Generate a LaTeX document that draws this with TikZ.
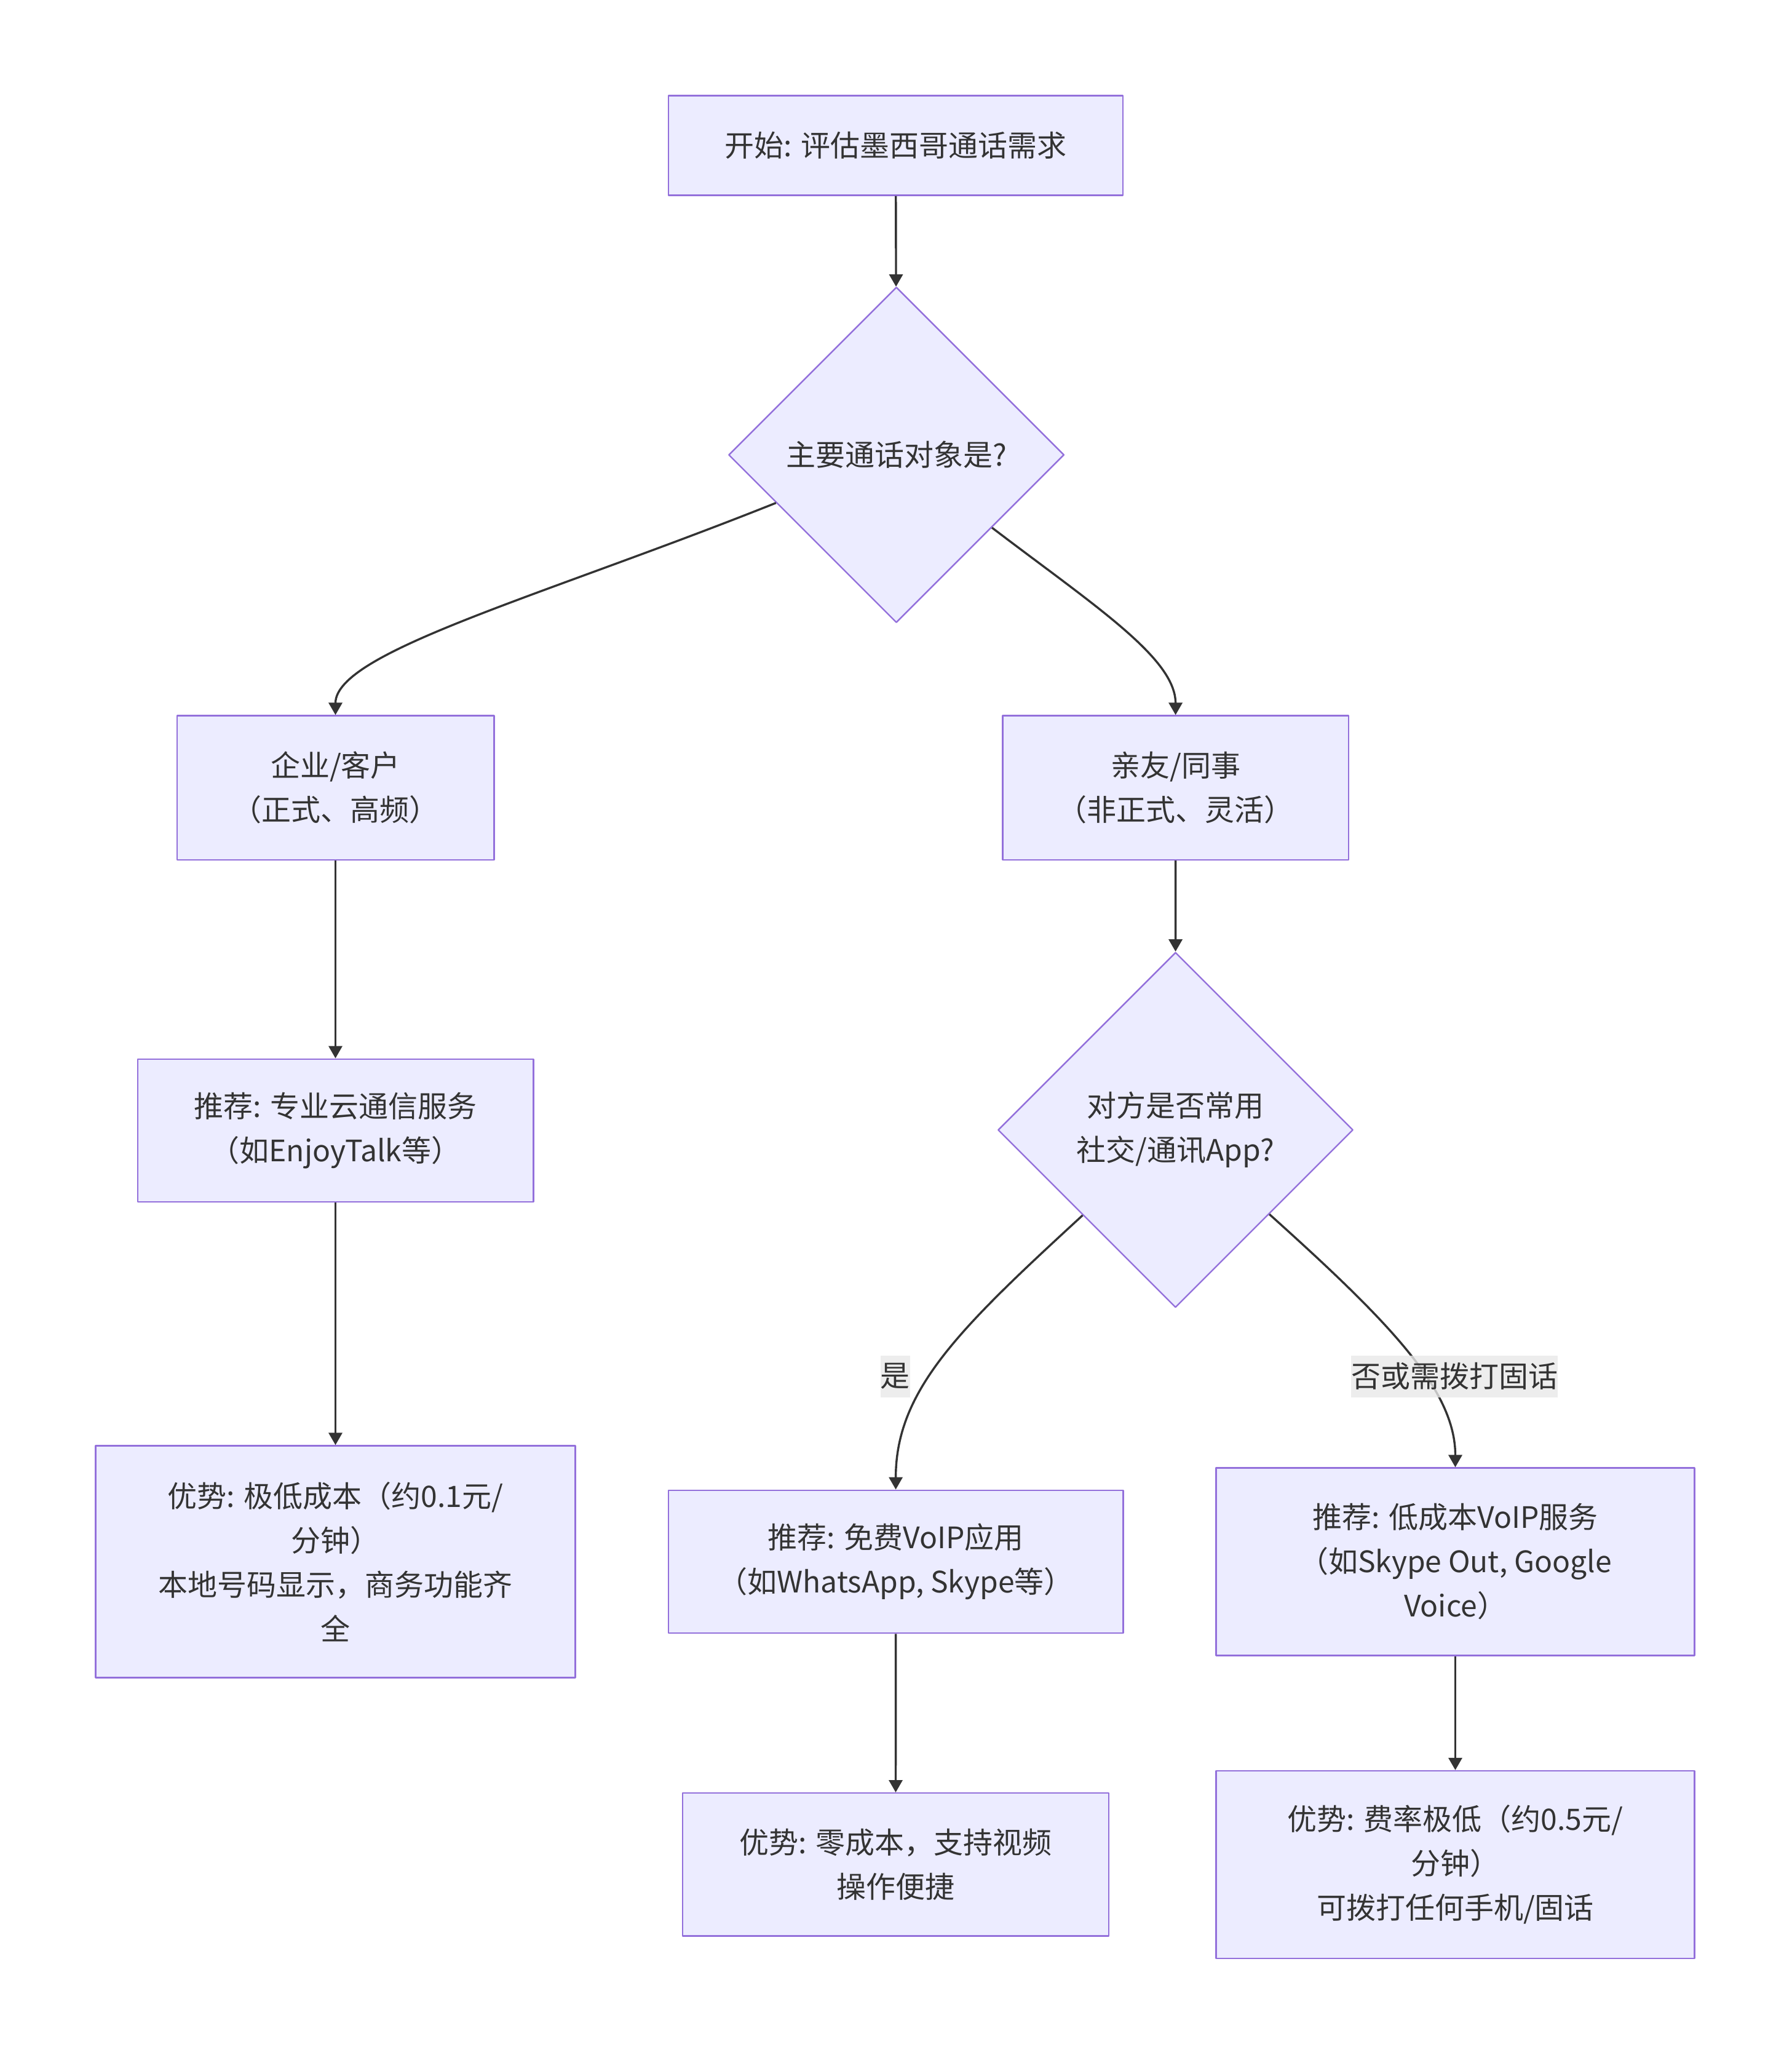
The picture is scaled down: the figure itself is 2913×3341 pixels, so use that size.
\documentclass[tikz,border=0pt]{standalone}
\usepackage{fontspec}
\newfontfamily\cjk{Noto Sans CJK SC}
\usetikzlibrary{shapes.geometric,arrows.meta}
\definecolor{boxfill}{HTML}{ECECFF}
\definecolor{boxline}{HTML}{9370DB}
\definecolor{ink}{HTML}{333333}
\definecolor{lblbg}{HTML}{E8E8E8}
\newcommand{\chfont}{\cjk\fontsize{12}{18}\selectfont}

\begin{document}
\begin{tikzpicture}[x=0.25pt,y=-0.25pt,line join=round,
  box/.style={draw=boxline,fill=boxfill,line width=0.6pt,inner sep=0pt,align=center,text=ink,font=\chfont},
  decide/.style={box,diamond,aspect=1},
  flow/.style={draw=ink,line width=0.85pt,-{Triangle[length=5pt,width=5.5pt]}},
  lbl/.style={fill=lblbg,fill opacity=0.8,text opacity=1,text=ink,inner xsep=0pt,inner ysep=0pt,minimum height=17pt,font=\chfont}]
  \useasboundingbox (0,0) rectangle (2913,3341);
  % nodes
  \node[box,minimum width=184.75pt,minimum height=40.5pt] (start) at (1456.6,236.5) {开始: 评估墨西哥通话需求};
  \node[decide,minimum width=136.4pt,minimum height=136.4pt] (who) at (1457.6,739.5) {主要通话对象是?};
  \node[box,minimum width=128.9pt,minimum height=58.6pt] (biz) at (545.5,1280.8) {企业/客户\\（正式、高频）};
  \node[box,minimum width=140.65pt,minimum height=58.6pt] (pal) at (1911.6,1280.8) {亲友/同事\\（非正式、灵活）};
  \node[box,minimum width=160.9pt,minimum height=58.1pt] (cloud) at (545.5,1838) {推荐: 专业云通信服务\\（如EnjoyTalk等）};
  \node[decide,minimum width=144.35pt,minimum height=144.35pt] (app) at (1911.5,1837) {对方是否常用\\社交/通讯App?};
  \node[box,minimum width=195pt,minimum height=94.25pt] (cloudpro) at (545.5,2539) {优势: 极低成本（约0.1元/\\分钟）\\本地号码显示，商务功能齐\\全};
  \node[box,minimum width=184.9pt,minimum height=58.1pt] (free) at (1456.6,2539) {推荐: 免费VoIP应用\\（如WhatsApp, Skype等）};
  \node[box,minimum width=194.45pt,minimum height=76.2pt] (cheap) at (2366.5,2539) {推荐: 低成本VoIP服务\\（如Skype Out, Google\\Voice）};
  \node[box,minimum width=173.15pt,minimum height=58.1pt] (freepro) at (1456.5,3031.4) {优势: 零成本，支持视频\\操作便捷};
  \node[box,minimum width=194.45pt,minimum height=76.2pt] (cheappro) at (2366.5,3031.4) {优势: 费率极低（约0.5元/\\分钟）\\可拨打任何手机/固话};
  % connectors
  \draw[flow] (start) -- (who);
  \draw[flow] (who) .. controls (880,970) and (545.5,1060) .. (biz);
  \draw[flow] (who) .. controls (1780,985) and (1911.6,1070) .. (pal);
  \draw[flow] (biz) -- (cloud);
  \draw[flow] (cloud) -- (cloudpro);
  \draw[flow] (pal) -- (app);
  \draw[flow] (app) .. controls (1560,2160) and (1456.6,2260) .. (free);
  \draw[flow] (app) .. controls (2260,2150) and (2366.5,2260) .. (cheap);
  \draw[flow] (free) -- (freepro);
  \draw[flow] (cheap) -- (cheappro);
  % edge labels
  \node[lbl] (yes) at (1455.5,2237.5) {是};
  \node[lbl] (no) at (2365.4,2237.5) {否或需拨打固话};
\end{tikzpicture}
\end{document}
